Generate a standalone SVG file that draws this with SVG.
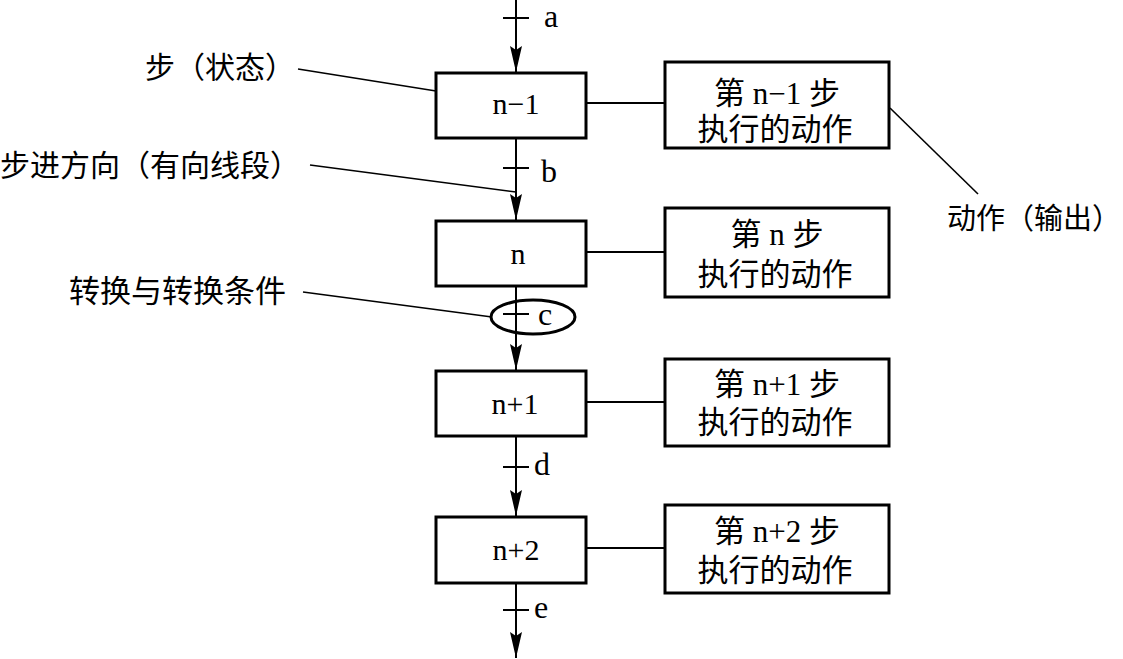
<svg xmlns="http://www.w3.org/2000/svg" width="1123" height="659" viewBox="0 0 1123 659">
<defs>
<style>
text{font-family:"Liberation Serif","Noto Sans CJK SC",serif;fill:#000}
.lbl{font-size:30px}
.box{fill:#fff;stroke:#000;stroke-width:3}
.num{font-size:30px;text-anchor:middle}
.act{font-size:31px;text-anchor:middle}
.ln{stroke:#000;stroke-width:2;fill:none}
.ld{stroke:#000;stroke-width:1.6;fill:none}
.tk{stroke:#000;stroke-width:2}
.tl{font-size:32px}
</style>
<marker id="ah" markerUnits="userSpaceOnUse" markerWidth="30" markerHeight="16" viewBox="-28 -8 30 16" refX="0" refY="0" orient="auto">
<path d="M0,0 L-26,-6 L-22,0 L-26,6 Z" fill="#000"/>
</marker>
</defs>
<rect width="1123" height="659" fill="#fff"/>
<g id="connectors">
<line class="ln" x1="516" y1="0" x2="516" y2="72" marker-end="url(#ah)"/>
<line class="ln" x1="516" y1="138" x2="516" y2="220" marker-end="url(#ah)"/>
<line class="ln" x1="516" y1="286" x2="516" y2="370" marker-end="url(#ah)"/>
<line class="ln" x1="516" y1="436" x2="516" y2="516" marker-end="url(#ah)"/>
<line class="ln" x1="516" y1="583" x2="516" y2="658" marker-end="url(#ah)"/>
<line class="tk" x1="503" y1="18" x2="529" y2="18"/>
<line class="tk" x1="503" y1="168" x2="529" y2="168"/>
<line class="tk" x1="503" y1="314" x2="529" y2="314"/>
<line class="tk" x1="503" y1="467" x2="529" y2="467"/>
<line class="tk" x1="503" y1="610" x2="529" y2="610"/>
<text class="tl" x="544" y="27">a</text>
<text class="tl" x="541" y="182">b</text>
<text class="tl" x="538" y="325">c</text>
<text class="tl" x="534" y="475">d</text>
<text class="tl" x="534" y="618">e</text>
<line class="ln" x1="586" y1="103" x2="665" y2="103"/>
<line class="ln" x1="586" y1="252" x2="665" y2="252"/>
<line class="ln" x1="586" y1="402" x2="665" y2="402"/>
<line class="ln" x1="586" y1="548" x2="665" y2="548"/>
<line class="ld" x1="298" y1="69" x2="436" y2="91"/>
<line class="ld" x1="310" y1="165" x2="516" y2="192"/>
<line class="ld" x1="303" y1="292" x2="492" y2="317"/>
<line class="ld" x1="890" y1="108" x2="978" y2="194"/>
</g>
<g id="transition-c">
<ellipse cx="533" cy="317" rx="42" ry="17" fill="none" stroke="#000" stroke-width="3"/>
</g>
<g id="step-n-1">
<rect class="box" x="436" y="73" width="150" height="65"/>
<text class="num" x="516" y="114">n−1</text>
</g>
<g id="step-n">
<rect class="box" x="436" y="221" width="150" height="65"/>
<text class="num" x="518" y="264">n</text>
</g>
<g id="step-n1">
<rect class="box" x="436" y="371" width="150" height="65"/>
<text class="num" x="515" y="414">n+1</text>
</g>
<g id="step-n2">
<rect class="box" x="436" y="517" width="150" height="66"/>
<text class="num" x="516" y="560">n+2</text>
</g>
<g id="action-n-1">
<rect class="box" x="665" y="62" width="224" height="86"/>
<text class="act" x="777" y="104">第 n−1 步</text>
<text class="act" x="775" y="140">执行的动作</text>
</g>
<g id="action-n">
<rect class="box" x="665" y="208" width="224" height="89"/>
<text class="act" x="777" y="245">第 n 步</text>
<text class="act" x="775" y="285">执行的动作</text>
</g>
<g id="action-n1">
<rect class="box" x="665" y="359" width="224" height="87"/>
<text class="act" x="777" y="395">第 n+1 步</text>
<text class="act" x="775" y="433">执行的动作</text>
</g>
<g id="action-n2">
<rect class="box" x="665" y="505" width="224" height="88"/>
<text class="act" x="777" y="542">第 n+2 步</text>
<text class="act" x="775" y="581">执行的动作</text>
</g>
<g id="label-step">
<text class="lbl" x="145" y="78">步（状态）</text>
</g>
<g id="label-direction">
<text class="lbl" x="0" y="176">步进方向（有向线段）</text>
</g>
<g id="label-transition">
<text class="lbl" x="69" y="302" style="font-size:31px">转换与转换条件</text>
</g>
<g id="label-action">
<text class="lbl" x="947" y="229" style="font-size:29px">动作（输出）</text>
</g>
</svg>
